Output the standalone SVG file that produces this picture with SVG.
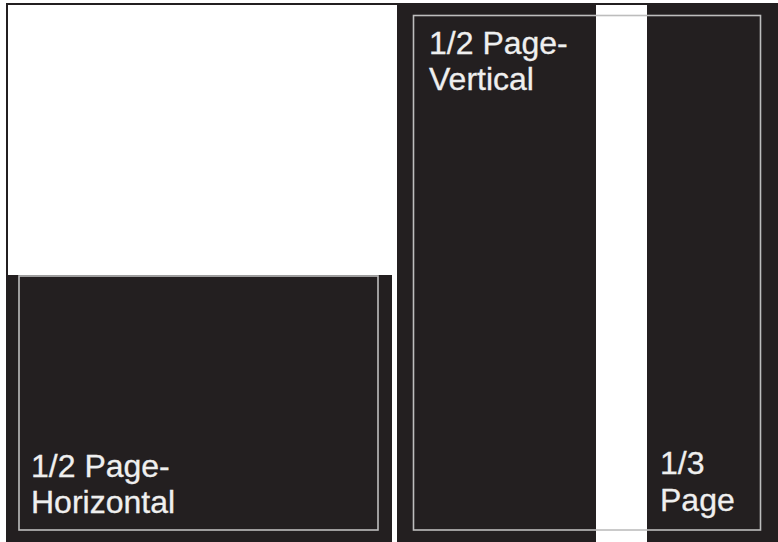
<svg xmlns="http://www.w3.org/2000/svg" width="778" height="542" viewBox="0 0 778 542">
<style>
.dark{fill:#231f20}
.frame{fill:none;stroke:#bdbdbd;stroke-width:1.6}
.lbl{font-family:"Liberation Sans",Arial,sans-serif;font-size:32px;fill:#efefef;stroke:#efefef;stroke-width:0.3}
</style>
<rect x="0" y="0" width="778" height="542" fill="#ffffff"/>
<g id="page-left">
<rect x="7" y="4" width="391" height="545" fill="#ffffff" stroke="#231f20" stroke-width="2"/>
</g>
<g id="half-horizontal">
<rect class="dark" x="7" y="275" width="385" height="267"/>
<rect class="frame" x="19" y="276" width="359" height="254"/>
<text class="lbl" x="31" y="477">1/2 Page-</text>
<text class="lbl" x="31" y="513">Horizontal</text>
</g>
<g id="page-right">
<rect class="dark" x="397" y="3" width="381" height="539"/>
<rect x="596" y="5" width="51" height="537" fill="#ffffff"/>
</g>
<g id="half-vertical">
<rect class="frame" x="413.5" y="15.5" width="347" height="514.5"/>
<text class="lbl" x="429" y="54">1/2 Page-</text>
<text class="lbl" x="429" y="90">Vertical</text>
</g>
<g id="third-page">
<text class="lbl" x="660" y="474">1/3</text>
<text class="lbl" x="660" y="511">Page</text>
</g>
</svg>
